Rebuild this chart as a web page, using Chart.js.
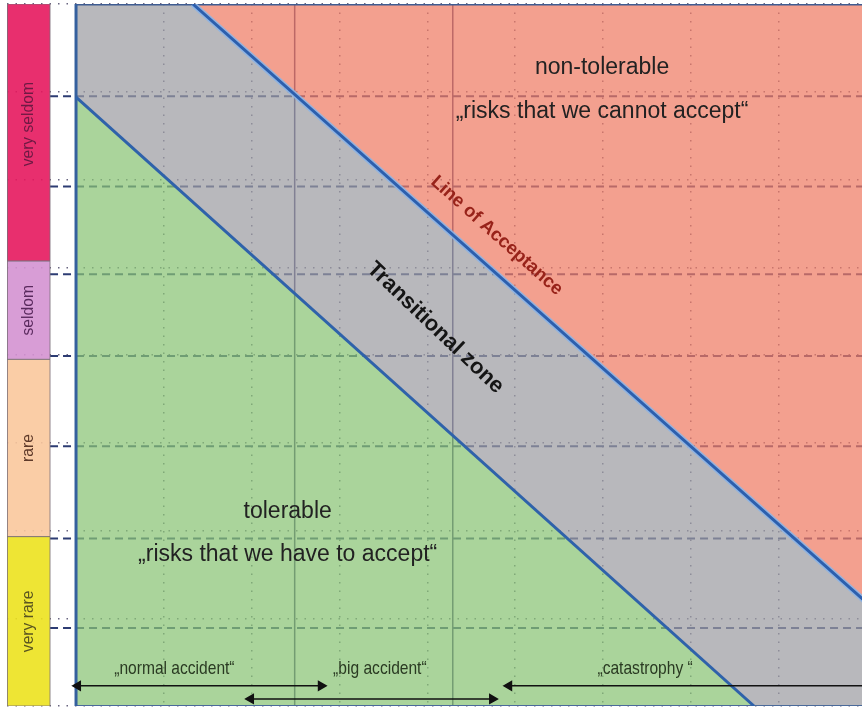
<!DOCTYPE html>
<html>
<head>
<meta charset="utf-8">
<script src="https://cdn.jsdelivr.net/npm/chart.js@4"></script>
<style>
  body { margin: 0; background: #fff; }
  #wrap { width: 862px; height: 708px; }
</style>
</head>
<body>
<div id="wrap"><canvas id="riskChart"></canvas></div>
<script>
// x = extent of damage, y = frequency, both in grid units
const gridX = [1, 2, 3, 4, 5, 6, 7, 8];
const gridY = [0, 1, 2, 3, 4, 5, 6, 7, 8];
const frequencyLabels = ['very rare', 'rare', 'seldom', 'very seldom'];
const frequencyBounds = [0, 1.93, 3.95, 5.07, 8];
const acceptanceLine = [{ x: 1.33, y: 8 }, { x: 9, y: 1.18 }];
const toleranceLine = [{ x: 0, y: 6.94 }, { x: 7.72, y: 0 }];
const dashedLevels = [6.95, 5.92, 4.92, 3.99, 2.96, 1.91, 0.89];
const dividerX = [2.49, 4.29];
const accidentLabels = ['„normal accident“', '„big accident“', '„catastrophy “'];
const accidentFrom = [0.02, 1.99, 4.93];
const accidentTo = [2.79, 4.74, 9];
const accidentRow = [0.23, 0.08, 0.23];

const X_MIN = -0.786, X_MAX = 8.95;
const BAR_LEFT = -0.786, BAR_RIGHT = -0.296;

const bandColors = ['rgba(236,226,30,0.9)', 'rgba(249,200,156,0.9)', 'rgba(212,146,210,0.9)', 'rgba(230,24,94,0.9)'];
const bandText = ['#5a5520', '#5e3a2a', '#5a2a5e', '#6e1a44'];

function poly(points, color, order, border) {
  return {
    data: points.concat([points[0]]),
    fill: 'shape',
    backgroundColor: color,
    borderColor: border || 'rgba(0,0,0,0)',
    borderWidth: border ? 1 : 0,
    pointRadius: 0,
    order: order
  };
}

function line(points, color, width, order, dash) {
  return {
    data: points,
    fill: false,
    borderColor: color,
    borderWidth: width,
    borderDash: dash || [],
    pointRadius: 0,
    order: order
  };
}

const datasets = [];

// dashed frequency levels (under the translucent zones)
dashedLevels.forEach(v => {
  datasets.push(line([{ x: BAR_RIGHT, y: v }, { x: 9, y: v }], 'rgb(45,60,115)', 2, 90, [8, 5]));
});
// thin solid dividers
dividerX.forEach(v => {
  datasets.push(line([{ x: v, y: 0 }, { x: v, y: 8 }], 'rgb(60,55,110)', 1.5, 90));
});

// zones
datasets.push(poly([{ x: 0, y: 8 }, acceptanceLine[0], acceptanceLine[1], { x: 9, y: 0 }, toleranceLine[1], toleranceLine[0]],
  'rgba(156,156,162,0.72)', 80));
datasets.push(poly([acceptanceLine[0], { x: 9, y: 8 }, acceptanceLine[1]], 'rgba(238,124,100,0.72)', 80));
datasets.push(poly([toleranceLine[0], toleranceLine[1], { x: 0, y: 0 }], 'rgba(137,196,116,0.72)', 80));

// frequency colour bar
frequencyLabels.forEach((lbl, i) => {
  const lo = frequencyBounds[i], hi = frequencyBounds[i + 1];
  datasets.push(poly([{ x: BAR_LEFT, y: lo }, { x: BAR_RIGHT, y: lo }, { x: BAR_RIGHT, y: hi }, { x: BAR_LEFT, y: hi }],
    bandColors[i], 70, 'rgba(120,110,120,0.8)'));
});

// borders and the two boundary lines
datasets.push(line([{ x: 0, y: 0 }, { x: 0, y: 8 }], '#35609e', 3, 40));
datasets.push(line([{ x: 0, y: 8 }, { x: 9, y: 8 }], '#3e5c92', 3, 40));
datasets.push(line([{ x: 0, y: 0 }, { x: 9, y: 0 }], '#4a6a9a', 2, 40));
datasets.push(line(toleranceLine, '#2f62aa', 3, 30));
datasets.push(line(acceptanceLine, 'rgba(140,180,230,0.9)', 6, 31));
datasets.push(line(acceptanceLine, '#2c5fae', 3, 30));

// accident range arrows
accidentLabels.forEach((lbl, i) => {
  datasets.push({
    data: [{ x: accidentFrom[i], y: accidentRow[i] }, { x: accidentTo[i], y: accidentRow[i] }],
    fill: false,
    borderColor: '#111',
    borderWidth: 1.5,
    pointStyle: 'triangle',
    pointRadius: 5,
    pointRotation: [-90, 90],
    pointBackgroundColor: '#111',
    pointBorderColor: '#111',
    order: 10
  });
});

const textPlugin = {
  id: 'riskText',
  afterDatasetsDraw(chart) {
    const { ctx } = chart;
    const sx = chart.scales.x, sy = chart.scales.y;
    const put = (str, vx, vy, font, color, angle, squeeze) => {
      ctx.save();
      ctx.translate(sx.getPixelForValue(vx), sy.getPixelForValue(vy));
      ctx.rotate(angle || 0);
      if (squeeze) ctx.scale(squeeze, 1);
      ctx.font = font;
      ctx.fillStyle = color;
      ctx.textAlign = 'center';
      ctx.textBaseline = 'middle';
      ctx.fillText(str, 0, 0);
      ctx.restore();
    };
    const slope = pts => Math.atan2(
      sy.getPixelForValue(pts[1].y) - sy.getPixelForValue(pts[0].y),
      sx.getPixelForValue(pts[1].x) - sx.getPixelForValue(pts[0].x));

    const big = '23px "Liberation Sans", Arial, sans-serif';
    put('non-tolerable', 5.99, 7.27, big, '#222');
    put('„risks that we cannot accept“', 5.99, 6.77, big, '#222');
    put('tolerable', 2.41, 2.22, big, '#222');
    put('„risks that we have to accept“', 2.41, 1.73, big, '#222');
    put('Line of Acceptance', 4.79, 5.36, 'bold 18.5px "Liberation Sans", Arial, sans-serif', '#98231a', slope(acceptanceLine));
    put('Transitional zone', 4.09, 4.31, 'bold 22px "Liberation Sans", Arial, sans-serif', '#151515', slope(toleranceLine) + 0.03);

    const labelX = [1.12, 3.46, 6.48];
    accidentLabels.forEach((lbl, i) => {
      put(lbl, labelX[i], 0.43, '19px "Liberation Sans", Arial, sans-serif', '#2a3a22', 0, 0.82);
    });

    const labelY = [0.965, 2.94, 4.51, 6.63];
    frequencyLabels.forEach((lbl, i) => {
      put(lbl, (BAR_LEFT + BAR_RIGHT) / 2, labelY[i], '17px "Liberation Sans", Arial, sans-serif', bandText[i], -Math.PI / 2, 0.92);
    });
  }
};

new Chart(document.getElementById('riskChart'), {
  type: 'line',
  data: { datasets: datasets },
  options: {
    responsive: true,
    maintainAspectRatio: false,
    animation: false,
    layout: { autoPadding: false, padding: { left: 7, top: 4, right: 0, bottom: 2 } },
    plugins: { legend: { display: false }, tooltip: { enabled: false } },
    elements: { line: { tension: 0 } },
    scales: {
      x: {
        type: 'linear',
        min: X_MIN,
        max: X_MAX,
        afterBuildTicks: s => { s.ticks = gridX.map(v => ({ value: v })); },
        afterFit: s => { s.height = 0; s.paddingLeft = 0; s.paddingRight = 0; },
        ticks: { display: false },
        grid: { color: 'rgba(55,50,85,0.75)', lineWidth: 1.5, drawTicks: false },
        border: { display: false, dash: [1.5, 7] }
      },
      y: {
        type: 'linear',
        min: 0,
        max: 8,
        afterBuildTicks: s => { s.ticks = gridY.map(v => ({ value: v })); },
        afterFit: s => { s.width = 0; s.paddingTop = 0; s.paddingBottom = 0; },
        ticks: { display: false },
        grid: { color: 'rgba(55,50,85,0.75)', lineWidth: 1.5, drawTicks: false },
        border: { display: false, dash: [1.5, 7] }
      }
    }
  },
  plugins: [textPlugin]
});
</script>
</body>
</html>
